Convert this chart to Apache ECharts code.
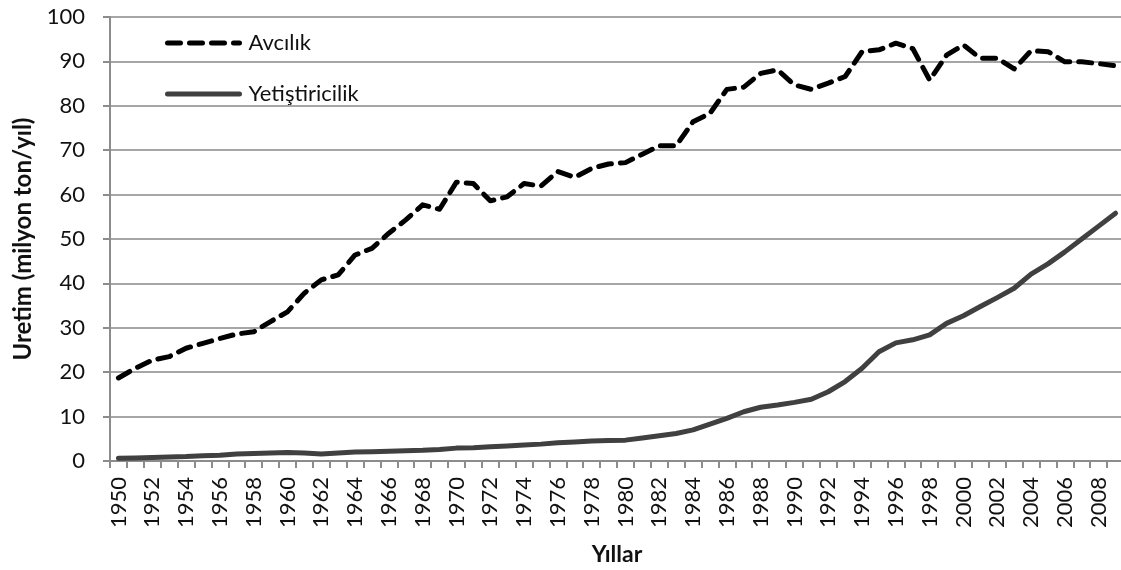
<!DOCTYPE html>
<html>
<head>
<meta charset="utf-8">
<script src="https://cdn.jsdelivr.net/npm/echarts@6/dist/echarts.min.js"></script>
<style>
html,body{margin:0;padding:0;background:#fff;}
#chart{width:1121px;height:570px;}
</style>
</head>
<body>
<div id="chart"></div>
<script>
const years = ['1950','1951','1952','1953','1954','1955','1956','1957','1958','1959',
  '1960','1961','1962','1963','1964','1965','1966','1967','1968','1969',
  '1970','1971','1972','1973','1974','1975','1976','1977','1978','1979',
  '1980','1981','1982','1983','1984','1985','1986','1987','1988','1989',
  '1990','1991','1992','1993','1994','1995','1996','1997','1998','1999',
  '2000','2001','2002','2003','2004','2005','2006','2007','2008','2009'];

const avcilik = [18.7, 20.9, 22.7, 23.5, 25.4, 26.5, 27.6, 28.6, 29.1, 31.4,
  33.6, 37.8, 40.8, 41.9, 46.4, 47.9, 51.3, 54.3, 57.7, 56.7,
  62.8, 62.5, 58.6, 59.5, 62.5, 61.9, 65.2, 63.9, 65.9, 66.9,
  67.2, 69.1, 71.0, 71.0, 76.4, 78.3, 83.7, 84.2, 87.3, 88.1,
  84.7, 83.7, 85.1, 86.6, 92.2, 92.6, 94.1, 92.9, 85.8, 91.4,
  93.7, 90.7, 90.7, 88.3, 92.4, 92.2, 89.9, 89.9, 89.5, 89.0];

const yetistiricilik = [0.6, 0.7, 0.8, 0.9, 1.0, 1.2, 1.3, 1.6, 1.7, 1.8,
  1.9, 1.8, 1.6, 1.8, 2.0, 2.1, 2.2, 2.3, 2.4, 2.6,
  2.9, 3.0, 3.2, 3.4, 3.6, 3.8, 4.1, 4.3, 4.5, 4.6,
  4.7, 5.2, 5.7, 6.2, 7.0, 8.3, 9.6, 11.1, 12.1, 12.6,
  13.2, 13.9, 15.6, 17.9, 20.9, 24.6, 26.6, 27.3, 28.4, 31.0,
  32.7, 34.8, 36.8, 38.9, 42.1, 44.4, 47.1, 50.0, 52.9, 55.8];

const seriesNames = ['Avcılık', 'Yetiştiricilik'];
const yAxisTitle = 'Uretim (milyon ton/yıl)';
const xAxisTitle = 'Yıllar';

const FONT = 'Lato';
const dashStyle = {color: '#000', width: 5, type: [13, 9], cap: 'round', join: 'round'};
const solidStyle = {color: '#404040', width: 5, type: 'solid', cap: 'round', join: 'round'};

const chart = echarts.init(document.getElementById('chart'), null, {renderer: 'canvas'});
chart.setOption({
  animation: false,
  backgroundColor: '#fff',
  textStyle: {fontFamily: FONT},
  grid: {left: 110, top: 17, width: 1014, bottom: 109, containLabel: false, outerBoundsMode: 'none'},
  legend: {
    orient: 'vertical',
    left: 160,
    top: 25,
    itemWidth: 72,
    itemHeight: 14,
    itemGap: 25,
    itemStyle: {opacity: 0},
    textStyle: {fontFamily: FONT, fontSize: 22, color: '#111', lineHeight: 26, padding: [0, 0, 0, 4]},
    data: [
      {name: seriesNames[0], lineStyle: dashStyle, itemStyle: {opacity: 0}},
      {name: seriesNames[1], lineStyle: solidStyle, itemStyle: {opacity: 0}}
    ]
  },
  xAxis: {
    type: 'category',
    data: years,
    boundaryGap: true,
    name: xAxisTitle,
    nameLocation: 'middle',
    nameGap: 82,
    nameTextStyle: {fontFamily: FONT, fontSize: 23, fontWeight: 'bold', color: '#111'},
    axisLine: {lineStyle: {color: '#8c8c8c', width: 2}},
    axisTick: {show: true, interval: 0, length: 7, lineStyle: {color: '#8c8c8c', width: 2}},
    axisLabel: {interval: 1, rotate: 90, margin: 16, fontFamily: FONT, fontSize: 22, color: '#111'},
    splitLine: {show: false}
  },
  yAxis: {
    type: 'value',
    min: 0, max: 100, interval: 10,
    name: yAxisTitle,
    nameLocation: 'middle',
    nameGap: 75,
    nameTextStyle: {fontFamily: FONT, fontSize: 24, fontWeight: 'bold', color: '#111'},
    axisLine: {show: true, lineStyle: {color: '#8c8c8c', width: 2}},
    axisTick: {show: true, length: 7, lineStyle: {color: '#8c8c8c', width: 2}},
    axisLabel: {margin: 25, fontFamily: FONT, fontSize: 22, color: '#111'},
    splitLine: {show: true, lineStyle: {color: '#a6a6a6', width: 2}}
  },
  series: [
    {
      name: seriesNames[0],
      type: 'line',
      data: avcilik,
      symbol: 'none',
      lineStyle: dashStyle,
      itemStyle: {color: '#000'}
    },
    {
      name: seriesNames[1],
      type: 'line',
      data: yetistiricilik,
      symbol: 'none',
      lineStyle: solidStyle,
      itemStyle: {color: '#404040'}
    }
  ]
});
</script>
</body>
</html>
